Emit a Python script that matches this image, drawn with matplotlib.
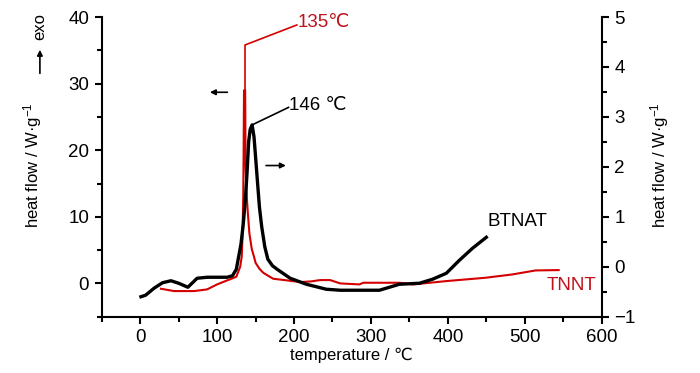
import matplotlib
matplotlib.use("Agg")
import matplotlib.pyplot as plt
from matplotlib.ticker import MultipleLocator
from matplotlib import font_manager

_names = {f.name for f in font_manager.fontManager.ttflist}
BASE = 'Liberation Sans Narrow' if 'Liberation Sans Narrow' in _names else 'Liberation Sans'
FS = 14 if BASE == 'Liberation Sans Narrow' else 13.5
LFS = 13 if BASE == 'Liberation Sans Narrow' else 12
plt.rcParams['font.family'] = [BASE, 'DejaVu Sans']
plt.rcParams['mathtext.fontset'] = 'custom'
plt.rcParams['mathtext.rm'] = BASE
plt.rcParams['mathtext.default'] = 'rm'

# BTNAT (right axis, W/g)
btnat_T = [1, 7, 18, 29, 40, 50, 62, 74, 87, 113, 120, 125, 128, 131, 134, 137, 139, 141,
           143, 145.5, 148, 150, 152, 155, 158, 162, 166, 172, 178, 195, 216, 242, 260,
           311, 324, 337, 363, 380, 398, 415, 432, 450]
btnat_hf = [-0.60, -0.57, -0.43, -0.32, -0.28, -0.33, -0.41, -0.23, -0.21, -0.21, -0.18,
            -0.05, 0.2, 0.45, 0.85, 1.4, 1.9, 2.5, 2.75, 2.84, 2.6, 2.2, 1.8, 1.2, 0.8,
            0.4, 0.15, 0.02, -0.05, -0.23, -0.35, -0.45, -0.47, -0.47, -0.41, -0.35,
            -0.33, -0.25, -0.13, 0.13, 0.37, 0.59]

# TNNT (left axis, W/g)
tnnt_T = [27, 44, 70, 87, 100, 113, 122, 125, 130, 132, 133, 134, 134.5, 135, 136.5, 137,
          138, 140, 142, 145, 148, 150, 155, 160, 167, 173, 191, 208, 222, 234, 247, 260,
          285, 290, 337, 355, 398, 449, 484, 514, 544]
tnnt_hf = [-0.8, -1.15, -1.15, -0.9, -0.15, 0.45, 0.85, 1.0, 2.5, 4, 7, 13, 20, 29, 29,
           18, 14, 10.5, 7.5, 5.2, 4, 3.1, 2.2, 1.6, 1.1, 0.7, 0.45, 0.2, 0.3, 0.5, 0.5,
           0, -0.15, 0.1, 0.1, -0.15, 0.35, 0.85, 1.35, 1.95, 2.0]

red_line = '#d40000'
red_text = '#c0101c'

fig = plt.figure(figsize=(7.0, 3.73), dpi=100)
ax = fig.add_axes([0.1453, 0.1509, 0.8596 - 0.1453, 0.9544 - 0.1509])
ax2 = ax.twinx()

ax.plot(tnnt_T, tnnt_hf, color=red_line, lw=1.5, zorder=3)
ax2.plot(btnat_T, btnat_hf, color='black', lw=2.4, zorder=2)

ax.set_xlim(-50, 600)
ax.set_ylim(-5, 40)
ax2.set_ylim(-1, 5)

ax.xaxis.set_major_locator(MultipleLocator(100))
ax.xaxis.set_minor_locator(MultipleLocator(50))
ax.yaxis.set_major_locator(MultipleLocator(10))
ax.yaxis.set_minor_locator(MultipleLocator(5))
ax2.yaxis.set_major_locator(MultipleLocator(1))
ax2.yaxis.set_minor_locator(MultipleLocator(0.5))

for a in (ax, ax2):
    a.spines['top'].set_visible(False)
    for s in a.spines.values():
        s.set_linewidth(1.5)
    a.tick_params(which='major', direction='out', length=5, width=1.5, labelsize=FS, pad=4)
    a.tick_params(which='minor', direction='out', length=3.5, width=1.5)
ax.spines['right'].set_visible(False)
ax2.spines['left'].set_visible(False)
ax2.spines['bottom'].set_visible(False)

ax.set_xlabel('temperature / ℃', fontsize=LFS, labelpad=1)

fig.text(0.047, 0.556, 'heat flow / W·g$^{-1}$', rotation=90, fontsize=LFS,
         ha='center', va='center')
fig.text(0.942, 0.558, 'heat flow / W·g$^{-1}$', rotation=90, fontsize=LFS,
         ha='center', va='center')
fig.text(0.057, 0.929, 'exo', rotation=90, fontsize=LFS, ha='center', va='center')
fig.patches.append(matplotlib.patches.FancyArrowPatch(
    (0.057, 0.796), (0.057, 0.874), transform=fig.transFigure, figure=fig,
    arrowstyle='-|>', mutation_scale=8, lw=1.2, color='black'))

# direction arrows
ax.annotate('', xy=(87, 28.7), xytext=(117, 28.7),
            arrowprops=dict(arrowstyle='-|>', mutation_scale=8, lw=1.2, color='black'))
ax.annotate('', xy=(193, 17.7), xytext=(160, 17.7),
            arrowprops=dict(arrowstyle='-|>', mutation_scale=8, lw=1.2, color='black'))

# peak annotations
ax.plot([136.3, 136.3, 203.6], [29, 35.8, 38.8], color=red_line, lw=1.2)
ax.text(204.5, 39.2, '135℃', color=red_text, fontsize=FS, ha='left', va='center')
ax2.plot([145.5, 192.8], [2.84, 3.19], color='black', lw=1.2)
ax2.text(194, 3.22, '146 ℃', color='black', fontsize=FS, ha='left', va='center')

ax.text(452, 9.3, 'BTNAT', color='black', fontsize=FS, ha='left', va='center')
ax.text(529, -0.3, 'TNNT', color=red_text, fontsize=FS, ha='left', va='center')

fig.savefig('out.png', dpi=100)
